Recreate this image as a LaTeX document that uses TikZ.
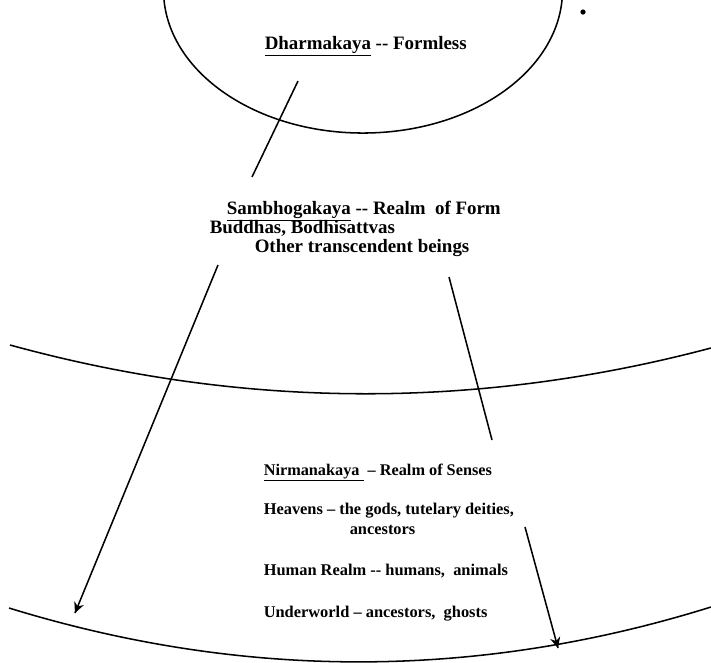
\documentclass[tikz,border=0pt]{standalone}
\usepackage{fontspec}
\setmainfont{Liberation Serif}

\tikzset{every picture/.style={line width=1.15pt}}
\tikzset{kaya/.style={anchor=base west,inner sep=0.75pt,font=\bfseries\fontsize{14.2}{16}\selectfont}}
\tikzset{realmtxt/.style={anchor=base west,inner sep=0.75pt,font=\bfseries\fontsize{12.3}{14}\selectfont}}

\begin{document}
\begin{tikzpicture}[x=0.75pt,y=0.75pt,yscale=-1,xscale=1]
\useasboundingbox (0,0) rectangle (711,662); %set diagram left start at 0, and has height of 662

%Shape: Arc
\draw (164,0) arc [start angle=176, end angle=4, x radius=199.5, y radius=143];
%Shape: Arc
\draw (10,345) .. controls (243,409) and (477,410) .. (711,348) ;
%Shape: Arc
\draw (9,608) .. controls (243,680) and (477,680) .. (711,607) ;
%Shape: Circle
\fill (583,12) circle (2.6) ;

\coordinate (dtop) at (298,81);
\coordinate (dbot) at (252,177);
\coordinate (stopl) at (218,265);
\coordinate (sbotl) at (75,613);
\coordinate (stopr) at (449,277);
\coordinate (sbotr) at (492,440);
\coordinate (ntop) at (525,527);
\coordinate (nbot) at (558,648);

%Straight Lines
\draw (dtop) -- (dbot) ;
%Straight Lines
\draw (stopl) -- (sbotl) ;
\draw [shift={(sbotl)}, rotate = 292.34] [fill={rgb, 255:red, 0; green, 0; blue, 0 }  ][line width=0.08]  [draw opacity=0] (10.72,-5.15) -- (0,0) -- (10.72,5.15) -- (7.12,0) -- cycle    ;
%Straight Lines
\draw (stopr) -- (sbotr) ;
%Straight Lines
\draw (ntop) -- (nbot) ;
\draw [shift={(nbot)}, rotate = 254.74] [fill={rgb, 255:red, 0; green, 0; blue, 0 }  ][line width=0.08]  [draw opacity=0] (10.72,-5.15) -- (0,0) -- (10.72,5.15) -- (7.12,0) -- cycle    ;

% Text Node
\node [kaya] (dharma) at (263,49) {\underline{Dharmakaya} -{}- Formless};
% Text Node
\node [kaya] (sambho) at (225,214) {\underline{Sambhogakaya} -{}- Realm\ \ of Form};
% Text Node
\node [kaya] (buddhas) at (208,233) {Buddhas, Bodhisattvas};
% Text Node
\node [kaya] (others) at (253,252) {Other transcendent beings};
% Text Node
\node [kaya, font=\bfseries\fontsize{12.2}{14}\selectfont] (nirmana) at (262,475) {\underline{Nirmanakaya\ } -- Realm of Senses};
% Text Node
\node [realmtxt] (heavens) at (262,514) {Heavens -- the gods, tutelary deities,};
% Text Node
\node [realmtxt] (heavens2) at (348,534) {ancestors};
% Text Node
\node [realmtxt] (human) at (262,575) {Human Realm -{}- humans,\ \ animals};
% Text Node
\node [realmtxt] (under) at (262,617) {Underworld -- ancestors,\ \ ghosts};

\end{tikzpicture}
\end{document}
